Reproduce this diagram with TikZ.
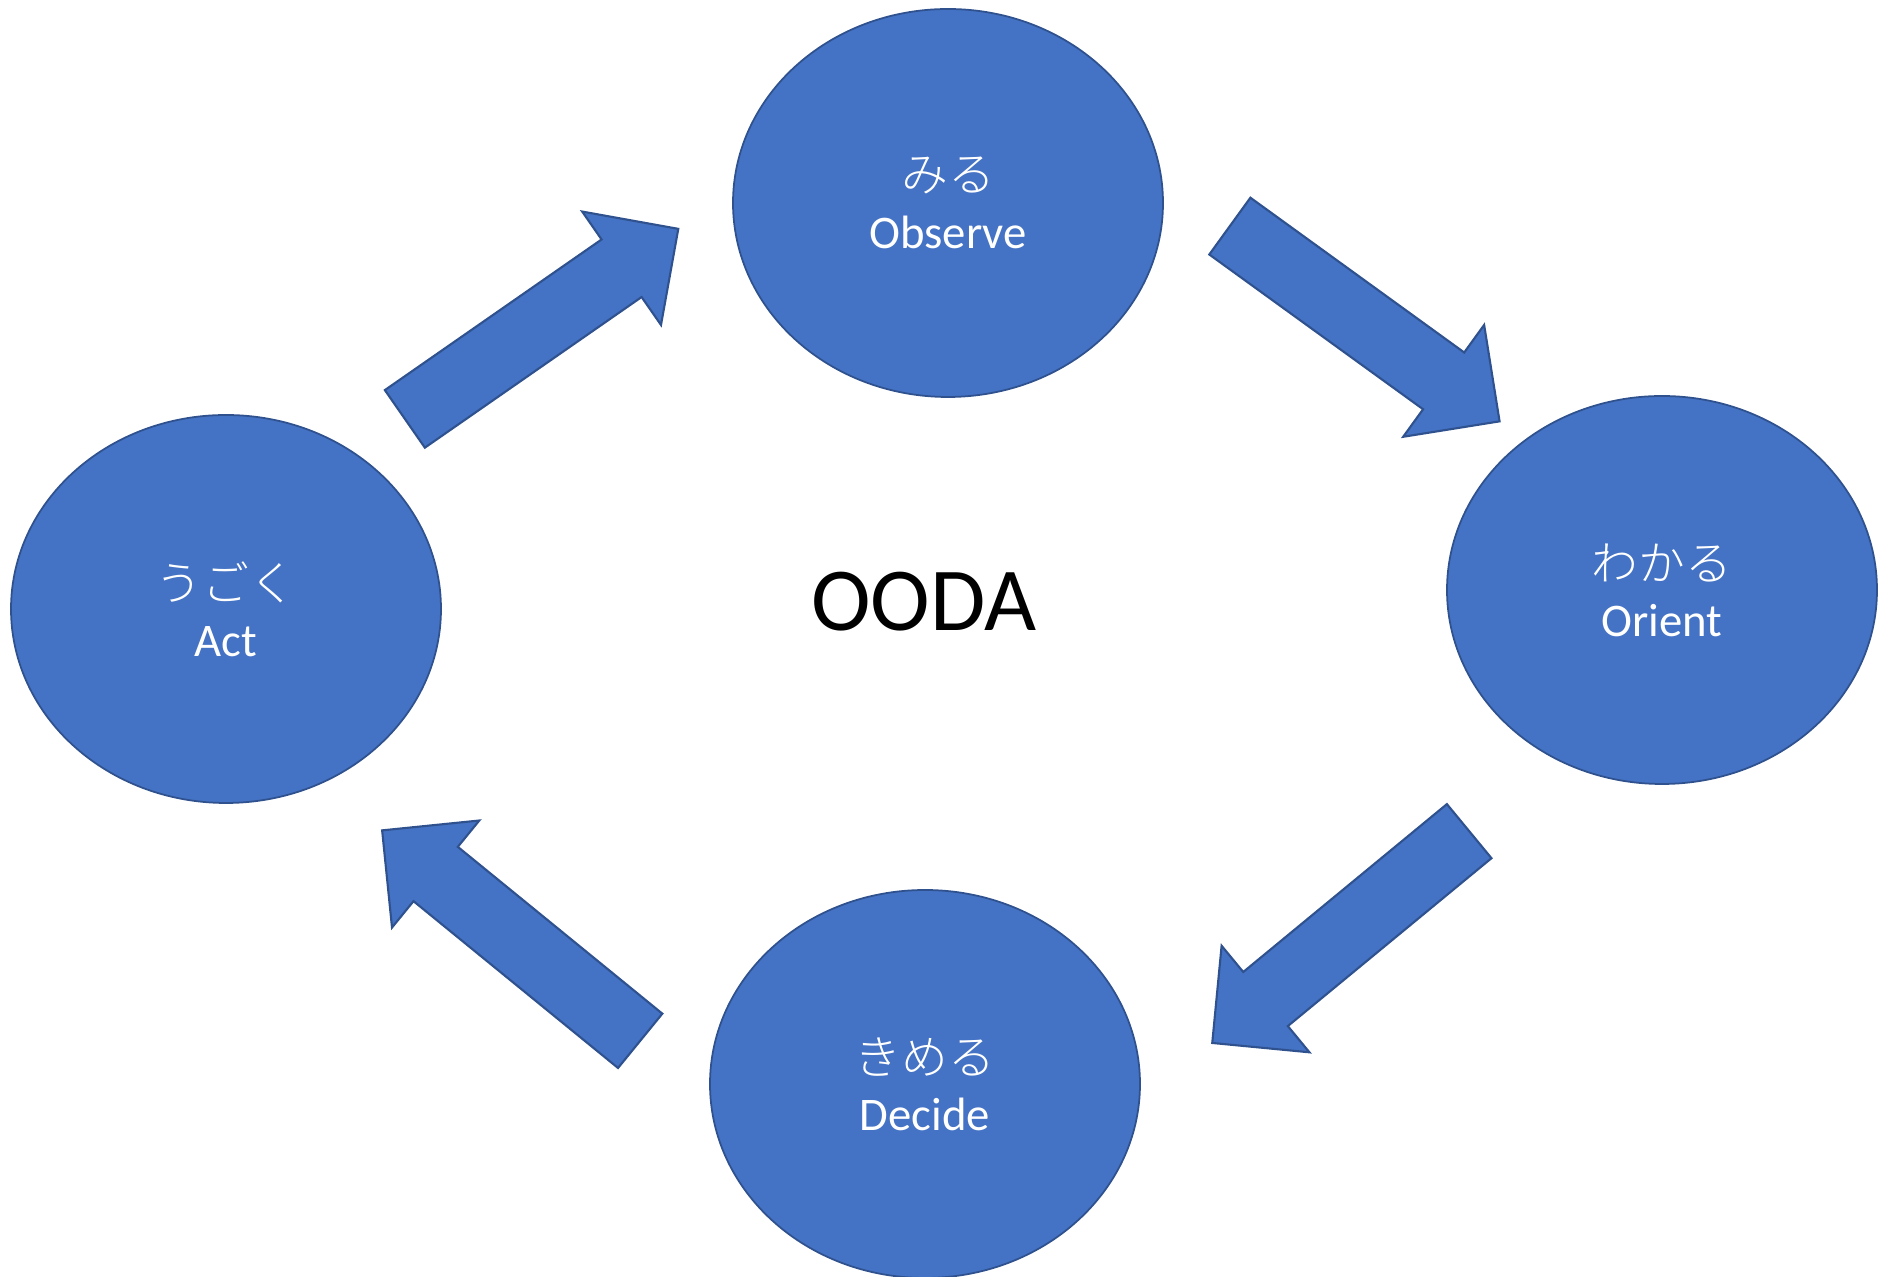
\documentclass[tikz,border=0pt]{standalone}
\usepackage{fontspec}
\setmainfont{Carlito}
\IfFontExistsTF{Noto Sans CJK JP Light}
  {\newfontfamily\jpfont{Noto Sans CJK JP Light}}
  {\newfontfamily\jpfont{Noto Sans CJK JP}}
\usepackage{tikz}
\usetikzlibrary{shapes.geometric}
\usetikzlibrary{shapes.arrows}
\definecolor{oodablue}{HTML}{4472C4}
\definecolor{oodaedge}{HTML}{2F528F}

\begin{document}
\begin{tikzpicture}[auto,
  stage/.style={ellipse, draw=oodaedge, fill=oodablue, line width=0.5pt,
    minimum width=4.30cm, minimum height=3.88cm, inner sep=0pt,
    align=center, text=white, font=\fontsize{13.3}{16}\selectfont},
  flow/.style={single arrow, draw=oodaedge, fill=oodablue, line width=0.6pt,
    minimum height=3.33cm, inner xsep=0pt, inner ysep=0.34cm,
    single arrow head extend=0.34cm, single arrow tip angle=90, anchor=tail}]

\useasboundingbox (0,0) rectangle (18.78,-12.77);

\node [stage] (OBS) at (9.48,-2.03) {{\jpfont みる}\\Observe};
\node [stage] (ORI) at (16.62,-5.90) {{\jpfont わかる}\\Orient};
\node [stage] (DEC) at (9.25,-10.84) {{\jpfont きめる}\\Decide};
\node [stage] (ACT) at (2.26,-6.09) {{\jpfont うごく}\\Act};

\node [font=\fontsize{25.6}{30}\selectfont] (OODA) at (9.24,-6.02) {OODA};

\node [flow, rotate=34.8] (ACTOBS) at (4.04,-4.195) {};
\node [flow, rotate=-35.9] (OBSORI) at (12.29,-2.255) {};
\node [flow, rotate=-140.5] (ORIDEC) at (14.70,-8.305) {};
\node [flow, rotate=140.8] (DECACT) at (6.41,-10.415) {};
\end{tikzpicture}
\end{document}
